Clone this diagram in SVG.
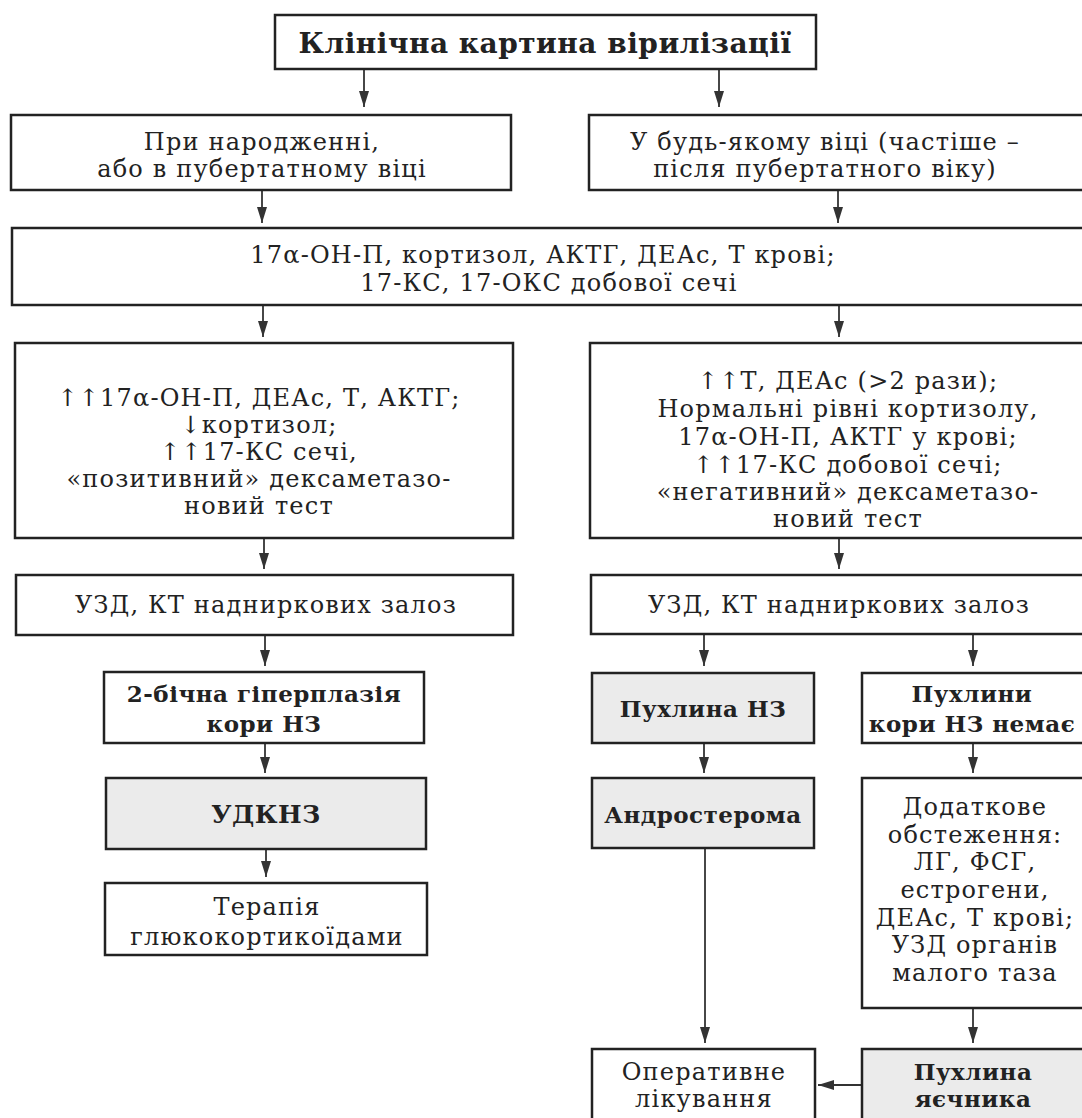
<svg xmlns="http://www.w3.org/2000/svg" width="1082" height="1118" viewBox="0 0 1082 1118">
<defs>
<marker id="ah" markerUnits="userSpaceOnUse" markerWidth="16" markerHeight="10" refX="16" refY="5" orient="auto"><path d="M0,0 L16,5 L0,10 z" fill="#333"/></marker>
</defs>
<style>
.b{fill:#fff;stroke:#222;stroke-width:2.5}
.g{fill:#ebebeb;stroke:#222;stroke-width:2.5}
text{font-family:"DejaVu Serif","Liberation Serif",serif;font-size:24px;letter-spacing:1.2px;fill:#222;text-anchor:middle}
.bd{font-weight:bold;font-size:23px;letter-spacing:0.5px}
.c{stroke:#333;stroke-width:1.8;fill:none;marker-end:url(#ah)}
</style>
<rect width="1082" height="1118" fill="#fff"/>
<g id="connectors">
<path class="c" d="M364,69 V107"/>
<path class="c" d="M719,69 V107"/>
<path class="c" d="M262,190 V223"/>
<path class="c" d="M838,190 V223"/>
<path class="c" d="M263,305 V337"/>
<path class="c" d="M839,305 V337"/>
<path class="c" d="M264,538 V569"/>
<path class="c" d="M839,538 V569"/>
<path class="c" d="M265,635 V666"/>
<path class="c" d="M265,743 V773"/>
<path class="c" d="M266,849 V877"/>
<path class="c" d="M704,634 V666"/>
<path class="c" d="M973,634 V666"/>
<path class="c" d="M704,743 V773"/>
<path class="c" d="M973,743 V773"/>
<path class="c" d="M705,848 V1043"/>
<path class="c" d="M973,1008 V1043"/>
<path class="c" d="M862,1085 H818"/>
</g>
<g id="n-title"><rect class="b" x="275" y="15" width="541" height="54"/><text class="bd" x="545" y="53" style="font-size:28px;letter-spacing:0.5px">Клінічна картина вірилізації</text></g>
<g id="n-birth"><rect class="b" x="11" y="115" width="500" height="75"/><text x="262" y="150">При народженні,</text><text x="262" y="177">або в пубертатному віці</text></g>
<g id="n-anyage"><rect class="b" x="589" y="115" width="510" height="75"/><text x="825" y="150">У будь-якому віці (частіше –</text><text x="825" y="177">після пубертатного віку)</text></g>
<g id="n-tests"><rect class="b" x="12" y="228" width="1090" height="77"/><text x="543" y="263">17α-ОН-П, кортизол, АКТГ, ДЕАс, Т крові;</text><text x="549" y="291">17-КС, 17-ОКС добової сечі</text></g>
<g id="n-res-left"><rect class="b" x="15" y="343" width="498" height="195"/>
<text x="259" y="406">↑↑17α-ОН-П, ДЕАс, Т, АКТГ;</text>
<text x="259" y="433">↓кортизол;</text>
<text x="259" y="460">↑↑17-КС сечі,</text>
<text x="259" y="487">«позитивний» дексаметазо-</text>
<text x="259" y="514">новий тест</text></g>
<g id="n-res-right"><rect class="b" x="590" y="343" width="510" height="195"/>
<text x="848" y="389">↑↑Т, ДЕАс (&gt;2 рази);</text>
<text x="848" y="417">Нормальні рівні кортизолу,</text>
<text x="848" y="445">17α-ОН-П, АКТГ у крові;</text>
<text x="848" y="473">↑↑17-КС добової сечі;</text>
<text x="848" y="500">«негативний» дексаметазо-</text>
<text x="848" y="527">новий тест</text></g>
<g id="n-uzd-left"><rect class="b" x="16" y="575" width="497" height="60"/><text x="266" y="613">УЗД, КТ надниркових залоз</text></g>
<g id="n-uzd-right"><rect class="b" x="591" y="575" width="510" height="59"/><text x="839" y="613">УЗД, КТ надниркових залоз</text></g>
<g id="n-hyper"><rect class="b" x="104" y="672" width="320" height="71"/><text class="bd" x="264" y="702">2-бічна гіперплазія</text><text class="bd" x="264" y="732">кори НЗ</text></g>
<g id="n-udknz"><rect class="g" x="106" y="778" width="320" height="71"/><text class="bd" x="266" y="823" style="font-size:25px">УДКНЗ</text></g>
<g id="n-therapy"><rect class="b" x="105" y="883" width="322" height="72"/><text x="267" y="915">Терапія</text><text x="267" y="945">глюкокортикоїдами</text></g>
<g id="n-tumor"><rect class="g" x="592" y="673" width="222" height="70"/><text class="bd" x="703" y="717">Пухлина НЗ</text></g>
<g id="n-notumor"><rect class="b" x="862" y="673" width="240" height="70"/><text class="bd" x="972" y="702">Пухлини</text><text class="bd" x="972" y="732">кори НЗ немає</text></g>
<g id="n-andro"><rect class="g" x="592" y="778" width="222" height="70"/><text class="bd" x="703" y="823">Андростерома</text></g>
<g id="n-extra"><rect class="b" x="862" y="778" width="240" height="230"/>
<text x="975" y="815">Додаткове</text>
<text x="975" y="843">обстеження:</text>
<text x="975" y="870">ЛГ, ФСГ,</text>
<text x="975" y="898">естрогени,</text>
<text x="975" y="926">ДЕАс, Т крові;</text>
<text x="975" y="953">УЗД органів</text>
<text x="975" y="981">малого таза</text></g>
<g id="n-surgery"><rect class="b" x="592" y="1049" width="223" height="90"/><text x="704" y="1080">Оперативне</text><text x="704" y="1107">лікування</text></g>
<g id="n-ovary"><rect class="g" x="862" y="1049" width="240" height="90"/><text class="bd" x="973" y="1080">Пухлина</text><text class="bd" x="973" y="1107">яєчника</text></g>
</svg>
